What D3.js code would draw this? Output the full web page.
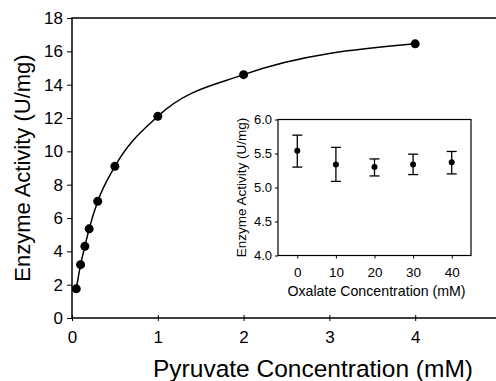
<!DOCTYPE html>
<html>
<head>
<meta charset="utf-8">
<script src="https://cdn.jsdelivr.net/npm/d3@7"></script>
<style>
  body { margin: 0; background: #fff; }
  svg { display: block; font-family: "Liberation Sans", Arial, sans-serif; }
</style>
</head>
<body>
<svg id="chart" width="496" height="381"></svg>
<script>
// main plot: activity vs pyruvate
const pyruvate = [0.05, 0.1, 0.15, 0.2, 0.3, 0.5, 1, 2, 4];
const activity = [1.75, 3.2, 4.3, 5.35, 7.0, 9.1, 12.1, 14.6, 16.45];
const mainXTicks = [0, 1, 2, 3, 4];
const mainYTicks = [0, 2, 4, 6, 8, 10, 12, 14, 16, 18];

// inset: activity vs oxalate, with error bars
const oxalate = [0, 10, 20, 30, 40];
const oxActivity = [5.54, 5.34, 5.30, 5.34, 5.37];
const oxLow = [5.30, 5.09, 5.17, 5.19, 5.20];
const oxHigh = [5.77, 5.59, 5.42, 5.49, 5.53];
const insetYTicks = [4.0, 4.5, 5.0, 5.5, 6.0];

const svg = d3.select("#chart");

const x = d3.scaleLinear().domain([0, 5]).range([72, 501]);
const y = d3.scaleLinear().domain([0, 18]).range([318, 18]);

// frame (right edge runs off the picture)
svg.append("rect")
  .attr("x", x(0)).attr("y", y(18))
  .attr("width", x(5) - x(0)).attr("height", y(0) - y(18))
  .attr("fill", "none").attr("stroke", "#000").attr("stroke-width", 1.5);

const yAxis = svg.append("g")
  .attr("transform", `translate(${x(0)},0)`)
  .call(d3.axisLeft(y).tickValues(mainYTicks).tickSize(5).tickPadding(4));
yAxis.select(".domain").remove();
yAxis.selectAll("text").attr("font-size", 17).attr("fill", "#000");

const xAxis = svg.append("g")
  .attr("transform", `translate(0,${y(0)})`)
  .call(d3.axisBottom(x).tickValues(mainXTicks).tickFormat(d3.format("d")).tickSize(3).tickPadding(10));
xAxis.select(".domain").remove();
xAxis.selectAll("line").attr("y1", -3);
xAxis.selectAll("text").attr("font-size", 17).attr("fill", "#000");

svg.append("text")
  .attr("x", 313).attr("y", 377)
  .attr("text-anchor", "middle").attr("font-size", 24.5)
  .text("Pyruvate Concentration (mM)");

svg.append("text")
  .attr("transform", `translate(30,${(y(0) + y(18)) / 2}) rotate(-90)`)
  .attr("text-anchor", "middle").attr("font-size", 22)
  .text("Enzyme Activity (U/mg)");

const pts = pyruvate.map((p, i) => [p, activity[i]]);

svg.append("path")
  .datum(pts)
  .attr("fill", "none").attr("stroke", "#000").attr("stroke-width", 1.5)
  .attr("d", d3.line().x(d => x(d[0])).y(d => y(d[1])).curve(d3.curveMonotoneX));

svg.selectAll(".dot")
  .data(pts)
  .join("circle")
  .attr("class", "dot")
  .attr("cx", d => x(d[0])).attr("cy", d => y(d[1]))
  .attr("r", 4.5).attr("fill", "#000");

// inset
const ix = d3.scaleLinear().domain([-5, 45]).range([278, 471]);
const iy = d3.scaleLinear().domain([4, 6]).range([255.5, 119.5]);

svg.append("rect")
  .attr("x", ix(-5)).attr("y", iy(6))
  .attr("width", ix(45) - ix(-5)).attr("height", iy(4) - iy(6))
  .attr("fill", "#fff").attr("stroke", "#000").attr("stroke-width", 1.2);

const iyAxis = svg.append("g")
  .attr("transform", `translate(${ix(-5)},0)`)
  .call(d3.axisLeft(iy).tickValues(insetYTicks).tickFormat(d3.format(".1f")).tickSize(3).tickPadding(3));
iyAxis.select(".domain").remove();
iyAxis.selectAll("text").attr("font-size", 13).attr("fill", "#000");

const ixAxis = svg.append("g")
  .attr("transform", `translate(0,${iy(4)})`)
  .call(d3.axisBottom(ix).tickValues(oxalate).tickSize(3).tickPadding(9));
ixAxis.select(".domain").remove();
ixAxis.selectAll("text").attr("font-size", 13.5).attr("fill", "#000");

svg.append("text")
  .attr("x", (ix(-5) + ix(45)) / 2 + 2).attr("y", 296)
  .attr("text-anchor", "middle").attr("font-size", 14.2)
  .text("Oxalate Concentration (mM)");

svg.append("text")
  .attr("transform", `translate(246,${(iy(4) + iy(6)) / 2}) rotate(-90)`)
  .attr("text-anchor", "middle").attr("font-size", 13.5)
  .text("Enzyme Activity (U/mg)");

const ipts = oxalate.map((o, i) => ({o, v: oxActivity[i], lo: oxLow[i], hi: oxHigh[i]}));

const eb = svg.selectAll(".err").data(ipts).join("g").attr("class", "err")
  .attr("stroke", "#000").attr("stroke-width", 1.3);
eb.append("line")
  .attr("x1", d => ix(d.o)).attr("x2", d => ix(d.o))
  .attr("y1", d => iy(d.lo)).attr("y2", d => iy(d.hi));
eb.append("line")
  .attr("x1", d => ix(d.o) - 5).attr("x2", d => ix(d.o) + 5)
  .attr("y1", d => iy(d.hi)).attr("y2", d => iy(d.hi));
eb.append("line")
  .attr("x1", d => ix(d.o) - 5).attr("x2", d => ix(d.o) + 5)
  .attr("y1", d => iy(d.lo)).attr("y2", d => iy(d.lo));

svg.selectAll(".idot")
  .data(ipts)
  .join("circle")
  .attr("class", "idot")
  .attr("cx", d => ix(d.o)).attr("cy", d => iy(d.v))
  .attr("r", 3).attr("fill", "#000");
</script>
</body>
</html>
